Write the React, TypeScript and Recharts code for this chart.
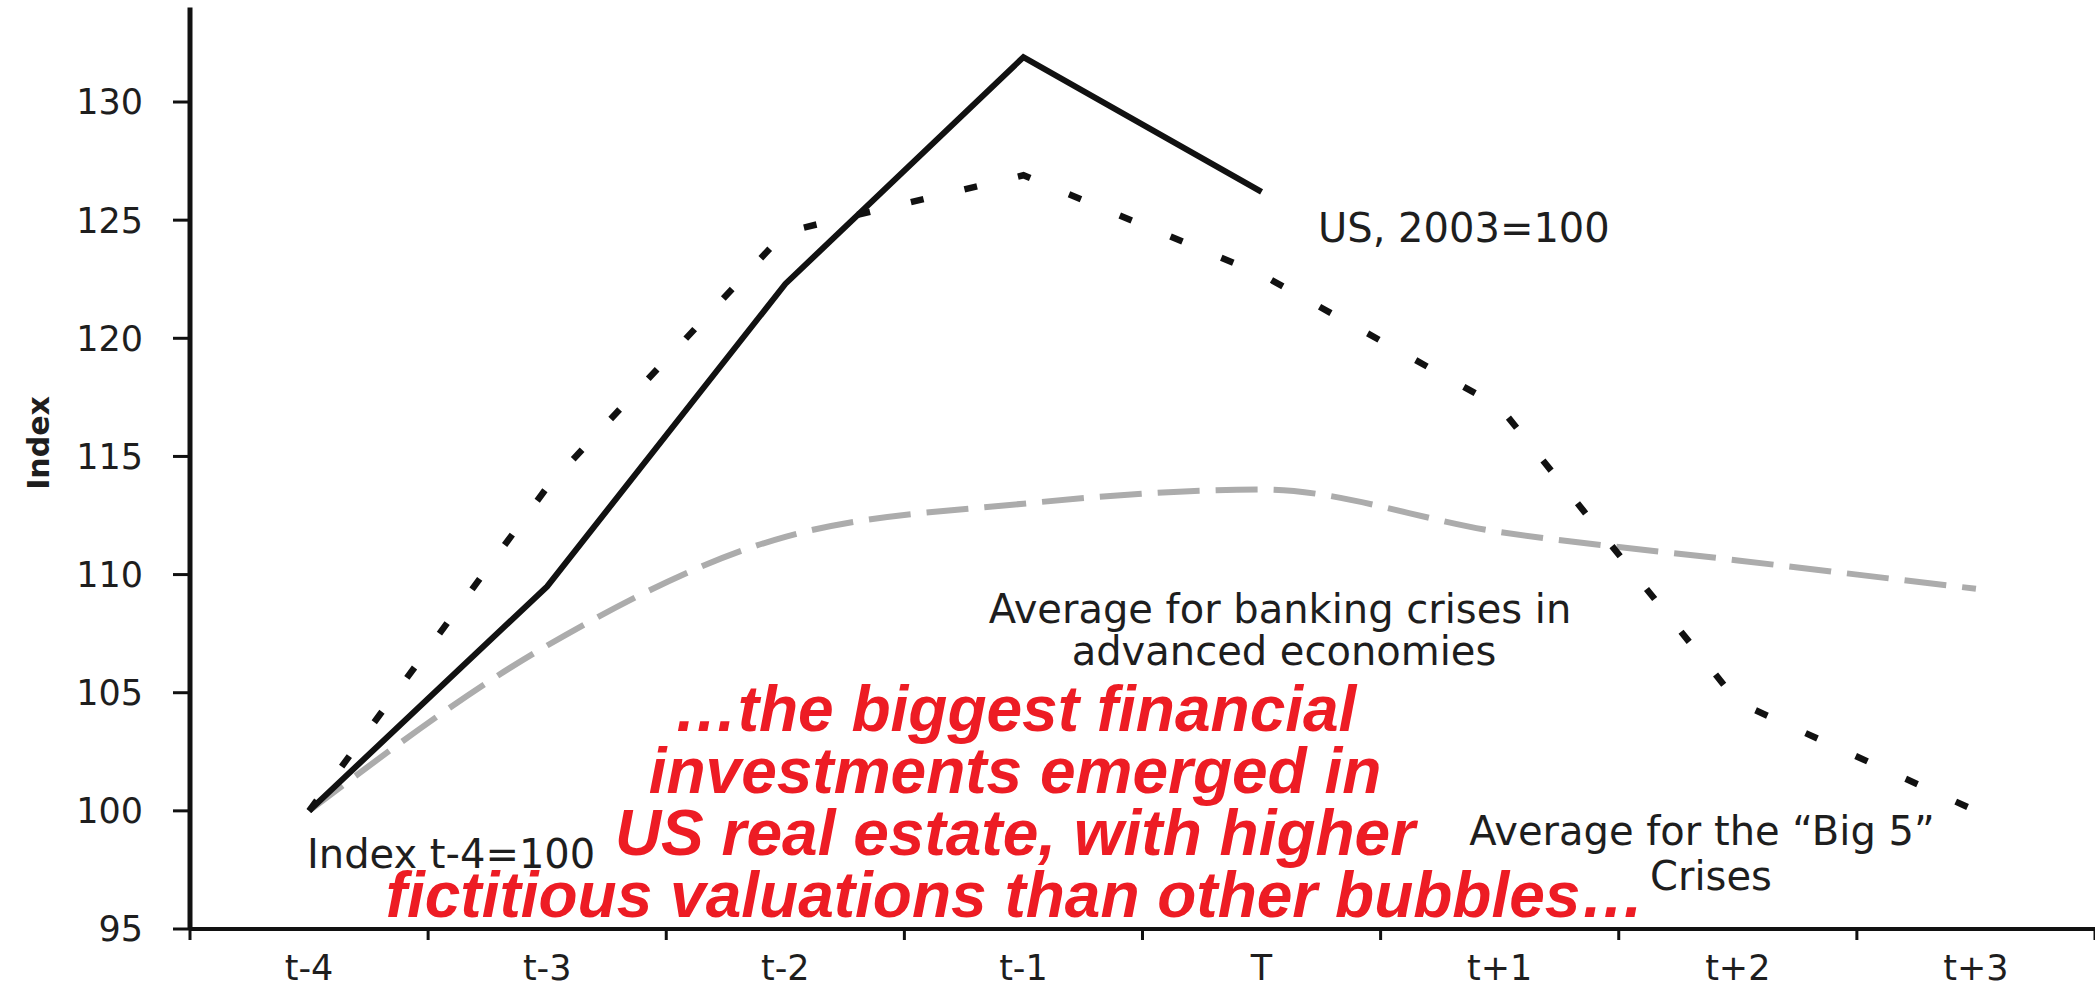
import React from 'react'
import {
  LineChart,
  Line,
  XAxis,
  YAxis,
  Customized
} from 'recharts'

// periods around the crisis year T
const categories = ['t-4', 't-3', 't-2', 't-1', 'T', 't+1', 't+2', 't+3']
const usIndex = [100, 109.5, 122.3, 131.9, 126.2, null, null, null]
const big5Avg = [100, 113.7, 124.5, 126.9, 122.7, 117.1, 104.6, 100]
const bankingAvg = [100, 107, 111.6, 113, 113.6, 111.8, 110.6, 109.4]
const yTicks = [95, 100, 105, 110, 115, 120, 125, 130]
const redLines = [
  '\u2026the biggest financial',
  'investments emerged in',
  'US real estate, with higher',
  'fictitious valuations than other bubbles\u2026'
]

const data = categories.map((c, i) => ({
  x: i + 0.5,
  name: c,
  us: usIndex[i],
  big5: big5Avg[i],
  banking: bankingAvg[i]
}))

// boundaries get a tick mark, band centres get the label
const xTicks: number[] = []
for (let i = 0; i <= categories.length; i++) {
  xTicks.push(i)
  if (i < categories.length) xTicks.push(i + 0.5)
}

const FONT = '"DejaVu Sans", sans-serif'
const INK = '#1e1e1e'

function XTick(props: any) {
  const { x, y, payload } = props
  const v = payload.value
  if (Number.isInteger(v)) {
    return <line x1={x} x2={x} y1={y} y2={y + 11} stroke="#111" strokeWidth={3} />
  }
  return (
    <text x={x} y={y + 51} textAnchor="middle" fontSize={35} fontFamily={FONT} fill={INK}>
      {categories[Math.floor(v)]}
    </text>
  )
}

function Annotations() {
  const txt = { fontFamily: FONT, fontSize: 40, fill: INK }
  return (
    <g>
      <text x={38} y={443} transform="rotate(-90 38 443)" textAnchor="middle" dominantBaseline="central"
        fontFamily={FONT} fontWeight="bold" fontSize={30} fill={INK}>Index</text>
      <text x={1318} y={242} {...txt}>US, 2003=100</text>
      <text x={1280} y={623} textAnchor="middle" {...txt}>Average for banking crises in</text>
      <text x={1284} y={665} textAnchor="middle" {...txt}>advanced economies</text>
      <text x={307} y={868} {...txt}>Index t-4=100</text>
      <text x={1702} y={845} textAnchor="middle" {...txt}>Average for the “Big 5”</text>
      <text x={1711} y={890} textAnchor="middle" {...txt}>Crises</text>
      {redLines.map((l, i) => (
        <text key={i} x={1015} y={731 + i * 62} textAnchor="middle"
          fontFamily='"Liberation Sans", Arial, sans-serif' fontWeight="bold" fontStyle="italic"
          fontSize={64} fill="#ed1c24">{l}</text>
      ))}
    </g>
  )
}

export default function App() {
  return (
    <div style={{ position: 'absolute', left: 0, top: 0, width: 2095, height: 991, background: '#fff' }}>
      <LineChart width={2095} height={991} data={data} margin={{ top: 7.5, right: 0, bottom: 0, left: 0 }}>
        <XAxis
          dataKey="x"
          type="number"
          domain={[0, 8]}
          ticks={xTicks}
          interval={0}
          height={62}
          tickSize={0}
          tickMargin={0}
          tickLine={false}
          axisLine={{ stroke: '#111', strokeWidth: 4 }}
          tick={<XTick />}
        />
        <YAxis
          domain={[95, 134]}
          ticks={yTicks}
          width={190}
          tickSize={17}
          tickMargin={30}
          axisLine={{ stroke: '#111', strokeWidth: 5 }}
          tickLine={{ stroke: '#111', strokeWidth: 3 }}
          tick={{ fontSize: 35, fill: INK, fontFamily: FONT }}
        />
        <Line type="monotone" dataKey="banking" stroke="#acacac" strokeWidth={6}
          strokeDasharray="42 16" dot={false} isAnimationActive={false} />
        <Line type="linear" dataKey="big5" stroke="#111" strokeWidth={6.5}
          strokeDasharray="13 42" dot={false} isAnimationActive={false} />
        <Line type="linear" dataKey="us" stroke="#111" strokeWidth={6}
          dot={false} isAnimationActive={false} />
        <Customized component={Annotations} />
      </LineChart>
    </div>
  )
}
